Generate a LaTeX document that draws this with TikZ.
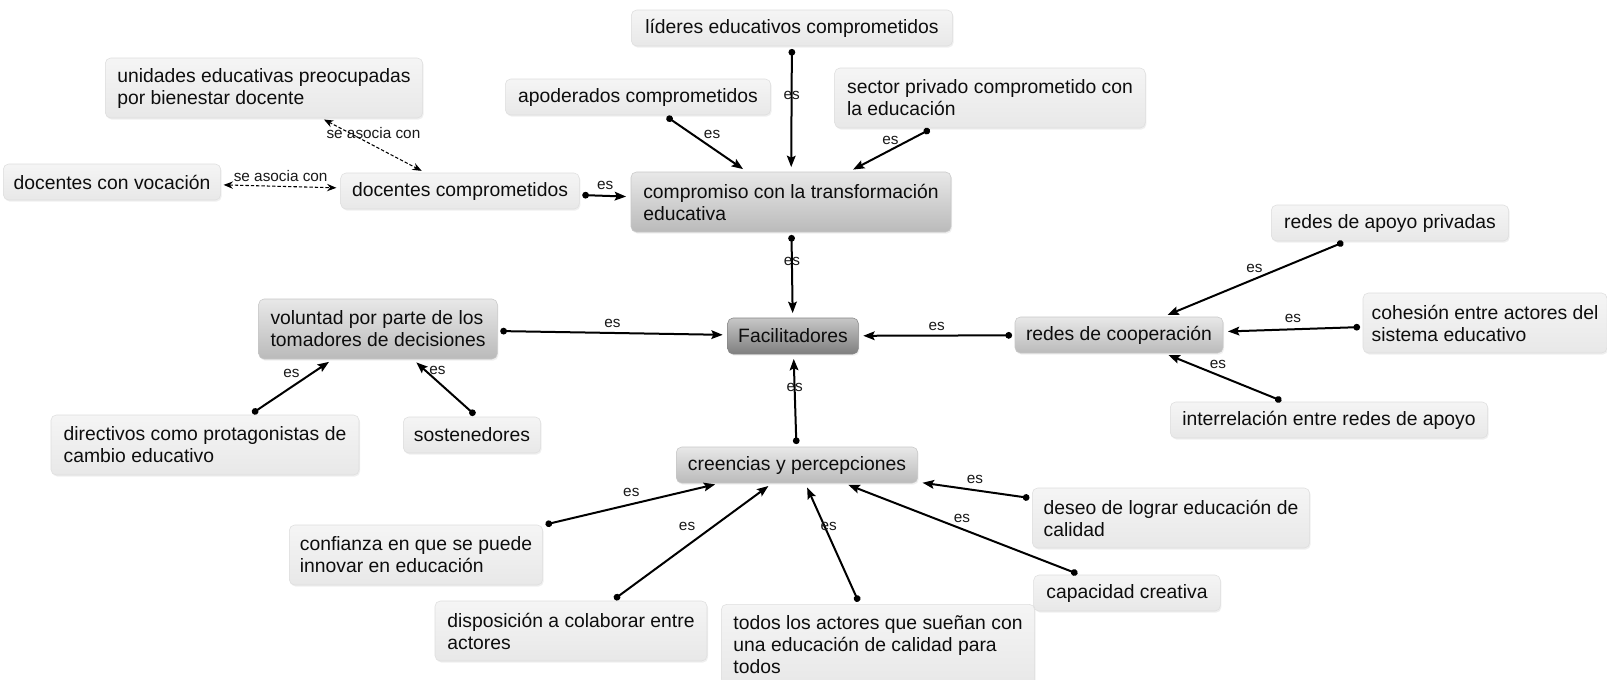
\documentclass[tikz,border=0pt]{standalone}
\usepackage{fontspec}
\setmainfont{Liberation Sans}
\usetikzlibrary{arrows.meta,shadows}

\tikzset{
  concept/.style={draw=black!13, rounded corners=4pt, top color=black!4, bottom color=black!9,
    align=left, inner xsep=6pt, inner ysep=3pt, text=black!95,
    font=\fontsize{14.5}{16.5}\selectfont,
    drop shadow={shadow xshift=0.8pt, shadow yshift=-1.2pt, opacity=0.12}},
  midconcept/.style={concept, draw=black!22, top color=black!9, bottom color=black!27},
  mainconcept/.style={concept, draw=black!48, top color=black!22, bottom color=black!50},
  oneline/.style={minimum height=27pt},
  twoline/.style={minimum height=45pt},
  link/.style={line width=1.5pt, {Circle[length=5pt]}-{Stealth[length=8.5pt,width=6.5pt,inset=1.5pt]},
    shorten <=2pt, shorten >=3.5pt},
  assoc/.style={line width=0.8pt, dashed, dash pattern=on 2.5pt off 1.5pt,
    {Stealth[length=7pt,width=5.5pt]}-{Stealth[length=7pt,width=5.5pt]}, shorten <=2pt, shorten >=3pt},
  lbl/.style={font=\fontsize{11.5}{13}\selectfont, text=black!90, inner sep=1pt}
}

\begin{document}
\begin{tikzpicture}[x=0.75pt, y=-0.75pt]
  \useasboundingbox[fill=white] (0,0) rectangle (1607,679);

  % upper part
  \node[concept, oneline, minimum width=241pt] (lideres) at (792,28) {líderes educativos comprometidos};
  \node[concept, oneline, minimum width=199pt] (apoderados) at (638,97) {apoderados comprometidos};
  \node[concept, twoline, minimum width=233pt] (sector) at (990,98) {sector privado comprometido con\\la educación};
  \node[concept, twoline, minimum width=238pt] (unidades) at (264,88) {unidades educativas preocupadas\\por bienestar docente};
  \node[concept, oneline, minimum width=163pt] (vocacion) at (112,182) {docentes con vocación};
  \node[concept, oneline, minimum width=179pt] (doccomp) at (460,191) {docentes comprometidos};
  \node[midconcept, twoline, minimum width=240pt] (compromiso) at (791,202) {compromiso con la transformación\\educativa};

  % centre row
  \node[mainconcept, oneline, minimum width=98pt] (facil) at (793,336) {Facilitadores};
  \node[midconcept, twoline, minimum width=179pt] (voluntad) at (378,329) {voluntad por parte de los\\tomadores de decisiones};
  \node[concept, twoline, minimum width=231pt] (directivos) at (205,445) {directivos como protagonistas de\\cambio educativo};
  \node[concept, oneline, minimum width=103pt] (sostenedores) at (472,435) {sostenedores};
  \node[midconcept, oneline, minimum width=156pt] (cooperacion) at (1119,335) {redes de cooperación};
  \node[concept, oneline, minimum width=178pt] (privadas) at (1390,223) {redes de apoyo privadas};
  \node[concept, twoline, minimum width=183pt] (cohesion) at (1485,323) {cohesión entre actores del\\sistema educativo};
  \node[concept, oneline, minimum width=238pt] (interrel) at (1329,420) {interrelación entre redes de apoyo};

  % lower part
  \node[midconcept, oneline, minimum width=181pt] (creencias) at (797,465) {creencias y percepciones};
  \node[concept, twoline, minimum width=190pt] (confianza) at (416,555) {confianza en que se puede\\innovar en educación};
  \node[concept, twoline, minimum width=208pt] (deseo) at (1171,518) {deseo de lograr educación de\\calidad};
  \node[concept, oneline, minimum width=140pt] (capacidad) at (1127,593) {capacidad creativa};
  \node[concept, twoline, minimum width=204pt] (disposicion) at (571,631) {disposición a colaborar entre\\actores};
  \node[concept, minimum height=61pt, minimum width=235pt] (todos) at (878,645) {todos los actores que sueñan con\\una educación de calidad para\\todos};

  % links
  \path (lideres) edge[link] node[lbl, pos=.39] {es} (compromiso);
  \path (apoderados) edge[link] node[lbl, pos=.45, above right] {es} (compromiso);
  \path (sector) edge[link] node[lbl, pos=.5, above=2pt] {es} (compromiso);
  \path (doccomp) edge[link] node[lbl, pos=.5, above=3pt] {es} (compromiso);
  \path (unidades) edge[assoc] node[lbl, pos=.5, above=4pt] {se asocia con} (doccomp);
  \path (vocacion) edge[assoc] node[lbl, pos=.5, above=2pt] {se asocia con} (doccomp);

  \path (compromiso) edge[link] node[lbl, pos=.34] {es} (facil);
  \path (voluntad) edge[link] node[lbl, pos=.5, above=2pt] {es} (facil);
  \path (cooperacion) edge[link] node[lbl, pos=.5, above=2pt] {es} (facil);
  \path (creencias) edge[link] node[lbl, pos=.64] {es} (facil);

  \path (directivos) edge[link] node[lbl, pos=.5, above=5pt] {es} (voluntad);
  \path (sostenedores.75) edge[link] node[lbl, pos=.8, right=1pt] {es} (voluntad.-41);

  \path (privadas) edge[link] node[lbl, pos=.5, above=3pt] {es} (cooperacion);
  \path (cohesion) edge[link] node[lbl, pos=.5, above=3pt] {es} (cooperacion);
  \path (interrel) edge[link] node[lbl, pos=.55, above=3pt] {es} (cooperacion);

  \path (confianza) edge[link] node[lbl, pos=.5, above=4pt] {es} (creencias);
  \path (disposicion) edge[link] node[lbl, pos=.55, above left=2pt] {es} (creencias);
  \path (todos) edge[link] node[lbl, pos=.64, xshift=3pt] {es} (creencias);
  \path (deseo) edge[link] node[lbl, pos=.5, above=3pt] {es} (creencias);
  \path (capacidad) edge[link] node[lbl, pos=.5, above=3pt] {es} (creencias);
\end{tikzpicture}
\end{document}
